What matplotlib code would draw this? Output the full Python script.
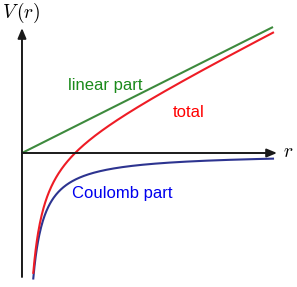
import numpy as np
import matplotlib
matplotlib.use("Agg")
import matplotlib.pyplot as plt

# Cornell-type potential V(r) = -a/r + k*r, parameters
k_lin = 0.502      # slope of the linear part
a_coul = 2.25      # strength of the Coulomb part
r_min, r_max = 0.45, 10.0

r = np.linspace(r_min, r_max, 400)
v_lin_r = np.array([0.0, r_max])
v_lin = k_lin * v_lin_r
v_coul = -a_coul / r
v_tot = v_coul + k_lin * r

plt.rcParams['mathtext.fontset'] = 'cm'

fig = plt.figure(figsize=(2.97, 2.87), dpi=100)
ax = fig.add_axes([0, 0, 1, 1])
ax.set_xlim(-0.876, 10.956)
ax.set_ylim(-5.339, 6.096)
ax.axis('off')

# axes with arrow heads
ax.annotate('', xy=(10.16, 0), xytext=(0, 0),
            arrowprops=dict(arrowstyle='-|>,head_length=0.6,head_width=0.25',
                            color='#1a1a1a', lw=1.4, shrinkA=0, shrinkB=0))
ax.annotate('', xy=(0, 4.98), xytext=(0, -4.94),
            arrowprops=dict(arrowstyle='-|>,head_length=0.6,head_width=0.25',
                            color='#1a1a1a', lw=1.4, shrinkA=0, shrinkB=0))

ax.plot(v_lin_r, v_lin, color='#3d8a3d', lw=1.5, solid_capstyle='butt')
ax.plot(r, v_coul, color='#2d3490', lw=1.5)
ax.plot(r, v_tot, color='#ee1c25', lw=1.5)

ax.text(-0.04, 5.6, '$V\\,(r)$', fontsize=14, ha='center', va='center')
ax.text(10.6, 0.05, '$r$', fontsize=14, ha='center', va='center')

ax.text(3.3, 2.5, 'linear part', color='#1a8a1a', fontsize=12,
        family='Liberation Sans', ha='center', va='baseline')
ax.text(6.62, 1.44, 'total', color='#ff0000', fontsize=12,
        family='Liberation Sans', ha='center', va='baseline')
ax.text(3.98, -1.78, 'Coulomb part', color='#0000ee', fontsize=12,
        family='Liberation Sans', ha='center', va='baseline')

fig.savefig('out.png', dpi=100)
